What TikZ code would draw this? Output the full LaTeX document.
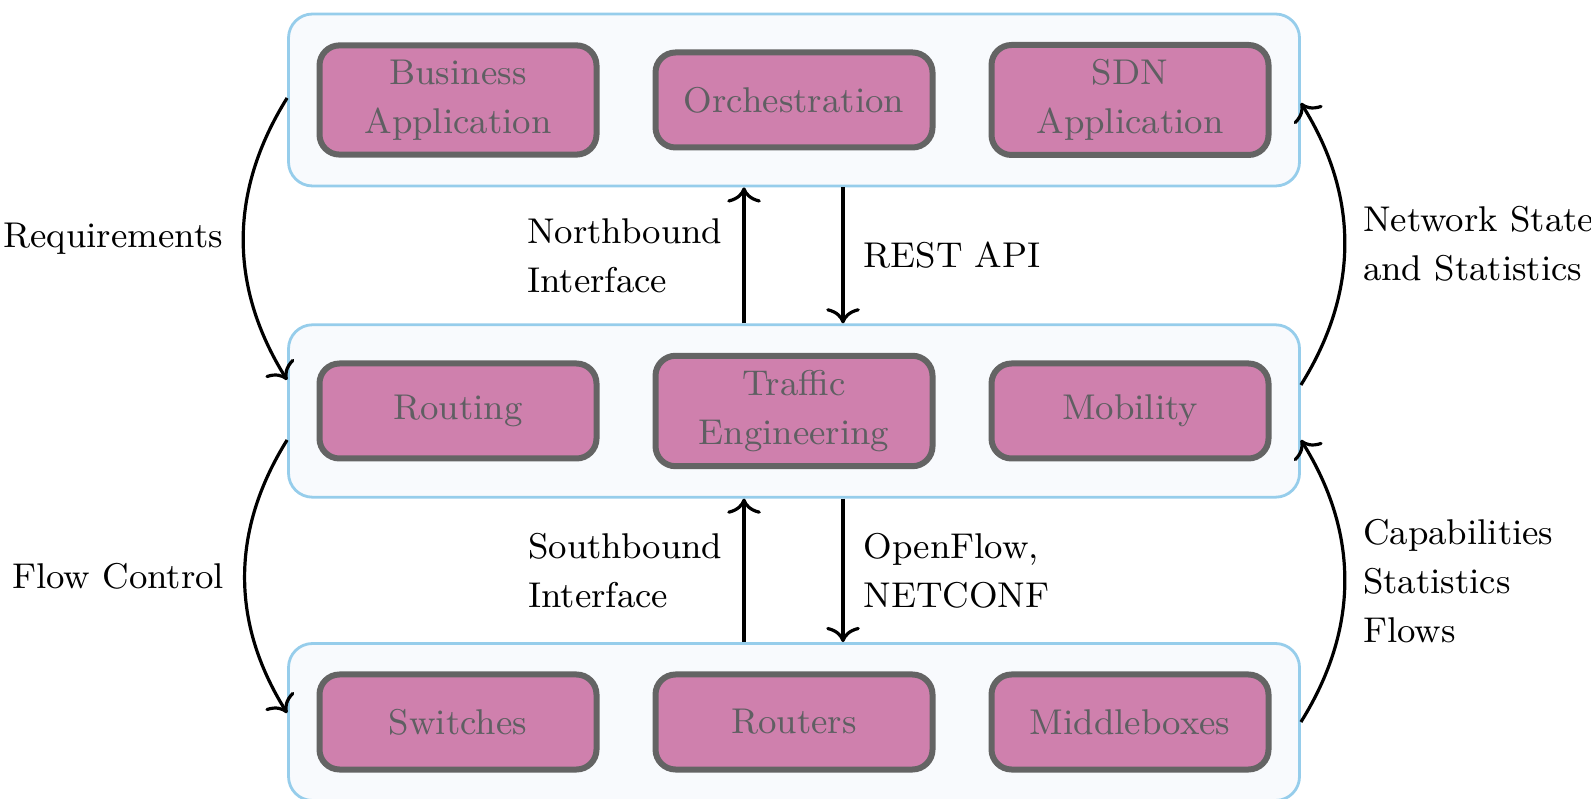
\documentclass[tikz,border=0pt]{standalone}
\usetikzlibrary{arrows.meta,fit,calc,backgrounds}
\definecolor{pinkfill}{RGB}{207,128,173}
\definecolor{boxborder}{RGB}{100,100,100}
\definecolor{boxtext}{RGB}{95,95,98}
\definecolor{layerfill}{RGB}{248,250,253}
\definecolor{layerdraw}{RGB}{150,205,235}
\begin{document}
\begin{tikzpicture}[x=0.25pt,y=0.25pt,
  every node/.style={font=\fontsize{8.95pt}{12.25pt}\selectfont},
  fn/.style={draw=boxborder, fill=pinkfill, line width=1.5pt, rounded corners=5pt,
    minimum width=69.25pt, minimum height=23.75pt, inner sep=3.6pt, align=center, text=boxtext},
  layer/.style={draw=layerdraw, fill=layerfill, line width=0.7pt, rounded corners=6pt, inner sep=7pt},
  flow/.style={line width=0.8pt, -{Computer Modern Rightarrow[length=3.8pt,width=8.4pt]}},
  lbl/.style={inner sep=0pt, align=left}
]
\useasboundingbox (0,0) rectangle (1591,-799);

\node[fn] (ba) at (458,-100) {Business\\Application};
\node[fn] (orch) at (794,-100) {Orchestration};
\node[fn] (sdn) at (1130,-100) {SDN\\Application};
\node[fn] (rt) at (458,-411) {Routing};
\node[fn] (te) at (794,-411) {Traffic\\Engineering};
\node[fn] (mob) at (1130,-411) {Mobility};
\node[fn] (sw) at (458,-722) {Switches};
\node[fn] (rr) at (794,-722) {Routers};
\node[fn] (mb) at (1130,-722) {Middleboxes};

\begin{scope}[on background layer]
\node[layer, fit=(ba)(orch)(sdn)] (Ltop) {};
\node[layer, fit=(rt)(te)(mob)] (Lmid) {};
\node[layer, fit=(sw)(rr)(mb)] (Lbot) {};
\end{scope}

\draw[flow] ($(Lmid.north)+(-50,0)$) -- node[lbl, anchor=east, xshift=-5pt] {Northbound\\Interface} ($(Ltop.south)+(-50,0)$);
\draw[flow] ($(Ltop.south)+(49,0)$) -- node[lbl, anchor=west, xshift=4.75pt] {REST API} ($(Lmid.north)+(49,0)$);
\draw[flow] ($(Lbot.north)+(-50,0)$) -- node[lbl, anchor=east, xshift=-5pt] {Southbound\\Interface} ($(Lmid.south)+(-50,0)$);
\draw[flow] ($(Lmid.south)+(49,0)$) -- node[lbl, anchor=west, xshift=4.75pt] {OpenFlow,\\NETCONF} ($(Lbot.north)+(49,0)$);

\draw[flow] ($(Ltop.west)+(0,2)$) to[bend right=32] node[lbl, midway, anchor=east, xshift=-4.75pt] {Requirements} ($(Lmid.west)+(0,31)$);
\draw[flow] ($(Lmid.west)+(0,-29)$) to[bend right=32] node[lbl, midway, anchor=east, xshift=-4.75pt] {Flow Control} ($(Lbot.west)+(0,9)$);
\draw[flow] ($(Lmid.east)+(0,26)$) to[bend right=32] node[lbl, midway, anchor=west, xshift=4.2pt] {Network State\\and Statistics} ($(Ltop.east)+(0,-3)$);
\draw[flow] (Lbot.east) to[bend right=32] node[lbl, midway, anchor=west, xshift=4.2pt] {Capabilities\\Statistics\\Flows} ($(Lmid.east)+(0,-29)$);
\end{tikzpicture}
\end{document}
